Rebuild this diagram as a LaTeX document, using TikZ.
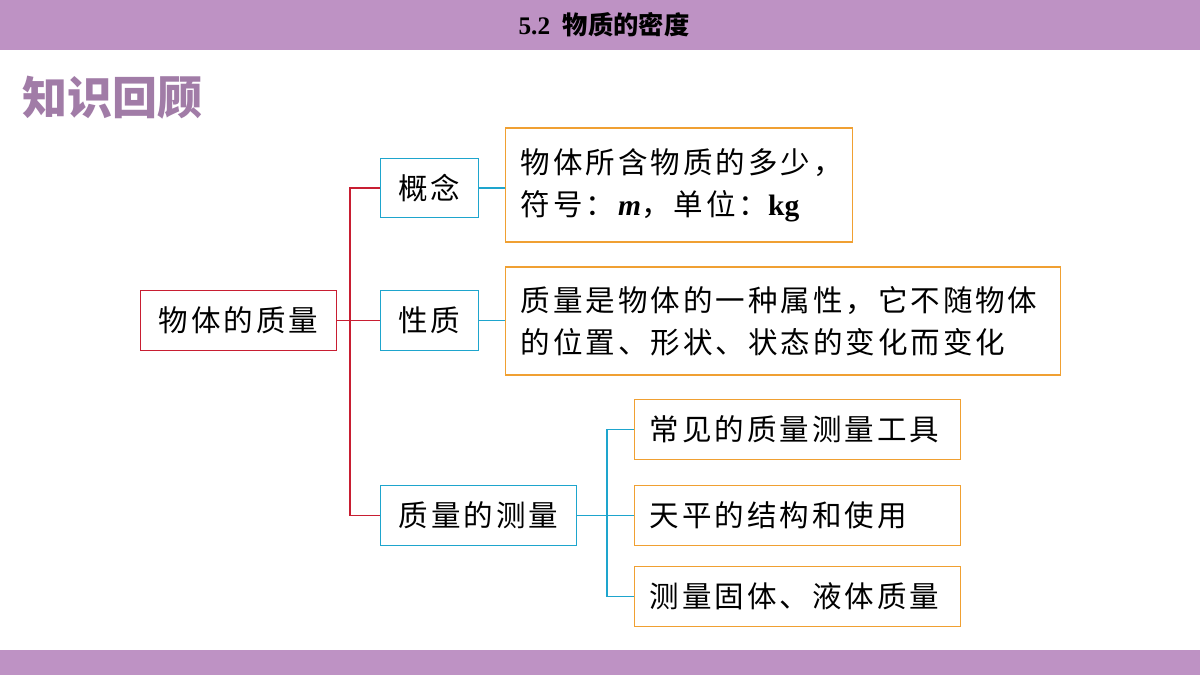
\documentclass[tikz,border=0pt]{standalone}
\usepackage{fontspec}
\setmainfont{Liberation Serif}
\newfontfamily\cjk[LetterSpace=10]{Noto Sans CJK SC}
\newfontfamily\cjkhead{Noto Sans CJK SC}
\usetikzlibrary{positioning,calc}
\definecolor{band}{RGB}{190,146,196}
\definecolor{redline}{RGB}{200,30,50}
\definecolor{cyanline}{RGB}{30,165,205}
\definecolor{orangeline}{RGB}{240,160,50}
\tikzset{
  root/.style={draw=redline,thick,minimum height=1.48cm,minimum width=4.88cm,font=\cjk\fontsize{21}{25}\selectfont},
  mid/.style={draw=cyanline,thick,minimum height=1.48cm,font=\cjk\fontsize{21}{25}\selectfont},
  leaf/.style={draw=orangeline,thick,align=left,inner xsep=0.38cm,text width=#1,font=\cjk\fontsize{21}{30}\selectfont},
  item/.style={draw=orangeline,thick,minimum height=1.48cm,inner xsep=0.38cm,text width=7.39cm,align=left,font=\cjk\fontsize{21}{25}\selectfont},
}
\begin{document}
\begin{tikzpicture}[x=0.025cm,y=-0.025cm]
\useasboundingbox (0,0) rectangle (1200,675);
\fill[band] (0,0) rectangle (1200,50);
\fill[band] (0,650) rectangle (1200,675);
\node (title) at (604,25) {\bfseries\fontsize{18}{20}\selectfont 5.2\ \ {\cjkhead\bfseries 物质的密度}};
\node[anchor=west,text=band!85!black,font=\cjkhead\bfseries\fontsize{32}{36}\selectfont] (recap) at (18,98) {知识回顾};
% tree
\node[root] (mass) at (238.5,320.5) {物体的质量};
\node[mid,minimum width=2.43cm] (concept) at (429.5,188) {概念};
\node[mid,minimum width=2.43cm] (prop) at (429.5,320.5) {性质};
\node[mid,minimum width=4.88cm] (measure) at (478.5,515.5) {质量的测量};
\node[leaf=7.92cm,anchor=west,minimum height=2.85cm] (cdef) at (505,185) {物体所含物质的多少，\\符号：\textit{\rmfamily\bfseries m}，单位：{\rmfamily\bfseries kg}};
\node[leaf=13.12cm,anchor=west,minimum height=2.7cm] (pdef) at (505,321) {质量是物体的一种属性，它不随物体\\的位置、形状、状态的变化而变化};
\node[item,anchor=west] (tool) at (634,429.5) {常见的质量测量工具};
\node[item,anchor=west] (scale) at (634,515.5) {天平的结构和使用};
\node[item,anchor=west] (solid) at (634,596.5) {测量固体、液体质量};
\coordinate (rj) at (350,320.5);
\coordinate (cj) at (607,515.5);
\draw[redline,thick] (mass.east) -- (rj);
\foreach \n in {concept,prop,measure}
  \draw[redline,thick] (rj) |- (\n.west);
\draw[cyanline,thick] (concept.east) -- (cdef.west |- concept.east);
\draw[cyanline,thick] (prop.east) -- (pdef.west |- prop.east);
\draw[cyanline,thick] (measure.east) -- (cj);
\foreach \n in {tool,scale,solid}
  \draw[cyanline,thick] (cj) |- (\n.west);
\end{tikzpicture}
\end{document}
